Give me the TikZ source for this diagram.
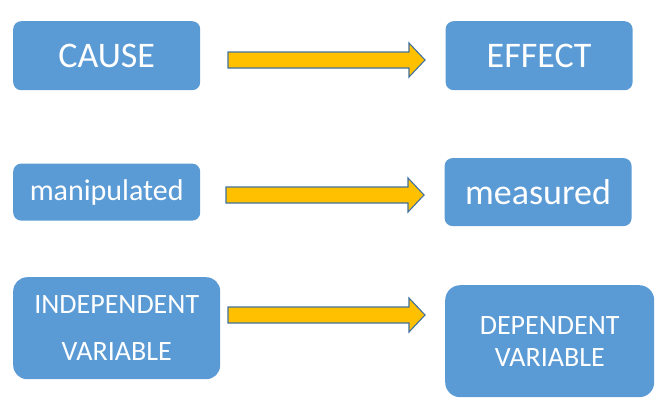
\documentclass[tikz,border=0pt]{standalone}
\usepackage{fontspec}
\setmainfont{Carlito}
\usepackage{xcolor}
\usepackage{tikz}
\usetikzlibrary{positioning,calc}
\definecolor{boxBlue}{HTML}{5B9BD5}
\definecolor{arrowGold}{HTML}{FFC000}
\definecolor{arrowEdge}{HTML}{41719C}
\newcommand{\fatarrow}[2]{%
  \draw[fatarrow] ($(#1)+(0,-8)$) -- ($(#2)+(-16,-8)$) -- ($(#2)+(-16,-17)$)
    -- (#2) -- ($(#2)+(-16,17)$) -- ($(#2)+(-16,8)$) -- ($(#1)+(0,8)$) -- cycle;}
\tikzset{
  bluebox/.style={fill=boxBlue,draw=none,rounded corners=8pt,inner sep=0pt,
    text=white,align=center,minimum width=187pt},
  bigfont/.style={font=\fontsize{36}{43}\selectfont},
  midfont/.style={font=\fontsize{30}{36}\selectfont},
  fatarrow/.style={fill=arrowGold,draw=arrowEdge,line width=1.1pt,line join=miter}
}
\begin{document}
\begin{tikzpicture}[x=1pt,y=-1pt]
  \useasboundingbox (0,0) rectangle (656,400);
  % row 1
  \node[bluebox, bigfont, minimum height=69pt, anchor=north west] (cause) at (13,21) {CAUSE};
  \node[bluebox, bigfont, minimum height=69pt, right=245pt of cause] (effect) {EFFECT};
  % row 2
  \node[bluebox, midfont, minimum height=57pt, below=73pt of cause] (manip) {manipulated};
  \node[bluebox, bigfont, minimum height=68pt, right=244pt of manip] (meas) {measured};
  % row 3
  \node[bluebox, font=\fontsize{28}{47}\selectfont, rounded corners=14pt,
    minimum width=207pt, minimum height=102pt, anchor=north west] (indep) at (13,277)
    {INDEPENDENT\\VARIABLE};
  \node[bluebox, font=\fontsize{28}{32}\selectfont, rounded corners=15pt,
    minimum width=209pt, minimum height=112pt, anchor=north west] (dep) at (445,285)
    {DEPENDENT\\VARIABLE};

  \coordinate (t1) at (228,60);  \coordinate (h1) at (425,60);
  \coordinate (t2) at (226,195); \coordinate (h2) at (424,195);
  \coordinate (t3) at (228,315); \coordinate (h3) at (425,315);
  \fatarrow{t1}{h1}
  \fatarrow{t2}{h2}
  \fatarrow{t3}{h3}
\end{tikzpicture}
\end{document}
